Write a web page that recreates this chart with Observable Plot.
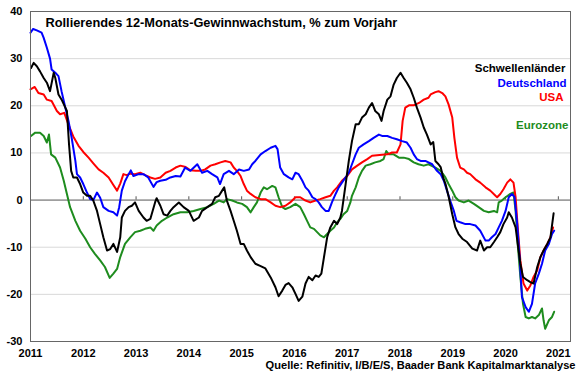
<!DOCTYPE html>
<html><head><meta charset="utf-8">
<script src="https://cdn.jsdelivr.net/npm/d3@7"></script>
<script src="https://cdn.jsdelivr.net/npm/@observablehq/plot@0.6"></script>
<style>body{margin:0;background:#fff}</style>
</head><body><div id="chart"></div>
<script>
const titleText = "Rollierendes 12-Monats-Gewinnwachstum, % zum Vorjahr";
const sourceText = "Quelle: Refinitiv, I/B/E/S, Baader Bank Kapitalmarktanalyse";
const seriesNames = ["Eurozone", "USA", "Deutschland", "Schwellenländer"];
const seriesColors = ["#1e8c1e", "#ff0000", "#0000ff", "#000000"];
const yTicks = [-30, -20, -10, 0, 10, 20, 30, 40];
const xTicks = [2011, 2012, 2013, 2014, 2015, 2016, 2017, 2018, 2019, 2020, 2021];

const deutschland = [[2011.00,35.5],[2011.05,36.3],[2011.12,36],[2011.21,35.5],[2011.25,34.4],[2011.31,32.3],[2011.37,30],[2011.40,27.7],[2011.47,27],[2011.53,26.3],[2011.59,23],[2011.66,19.6],[2011.72,16.8],[2011.78,13.2],[2011.85,8.3],[2011.88,5.5],[2011.94,4.8],[2012.00,3.4],[2012.07,1.6],[2012.13,0.2],[2012.19,0],[2012.26,1.6],[2012.32,0.5],[2012.38,-1.5],[2012.48,-2.3],[2012.57,-2.6],[2012.64,-3.3],[2012.68,-1.5],[2012.73,2],[2012.79,4],[2012.86,5.5],[2012.90,6.3],[2012.95,5.1],[2013.05,5.5],[2013.14,5.5],[2013.23,4.8],[2013.33,2.8],[2013.39,3.8],[2013.46,4.1],[2013.56,4.3],[2013.65,4.8],[2013.75,5.1],[2013.84,5],[2013.93,6.9],[2014.03,6.2],[2014.16,7.6],[2014.25,5.8],[2014.35,6.2],[2014.44,5.5],[2014.54,4.8],[2014.59,3.4],[2014.66,5.5],[2014.76,6.2],[2014.85,5.5],[2014.95,6.5],[2015.04,6.2],[2015.14,6.5],[2015.20,7.6],[2015.26,8.3],[2015.36,9.7],[2015.45,10.4],[2015.55,11.1],[2015.64,11.5],[2015.68,10.8],[2015.73,6.9],[2015.80,5.5],[2015.89,4.8],[2015.96,4.4],[2016.02,5.8],[2016.08,5.5],[2016.15,4.1],[2016.21,2.7],[2016.27,2],[2016.34,0.6],[2016.40,0.2],[2016.46,-0.5],[2016.52,-1.5],[2016.59,-2.3],[2016.65,-2.3],[2016.71,-0.5],[2016.78,1.3],[2016.84,2.7],[2016.90,3.7],[2016.97,4.8],[2017.03,5.8],[2017.09,7.6],[2017.16,9.7],[2017.22,11.1],[2017.31,11.8],[2017.41,12.5],[2017.50,13.2],[2017.60,13.9],[2017.66,13.6],[2017.76,13.6],[2017.85,13.2],[2017.94,12.9],[2018.04,12.5],[2018.13,12.2],[2018.20,11.1],[2018.26,9.7],[2018.32,8.7],[2018.39,8.3],[2018.48,8.3],[2018.61,7.6],[2018.70,6.2],[2018.77,5.5],[2018.83,4.1],[2018.89,2],[2018.95,-0.1],[2019.02,-2.3],[2019.07,-4.4],[2019.14,-4.7],[2019.24,-5.1],[2019.33,-5.1],[2019.43,-5.4],[2019.52,-6.5],[2019.62,-8.6],[2019.68,-8.6],[2019.74,-7.9],[2019.81,-7.2],[2019.87,-5.8],[2019.93,-4.4],[2020.00,-2.3],[2020.06,0.6],[2020.12,1.3],[2020.17,0.6],[2020.22,-5.1],[2020.27,-12.8],[2020.31,-20.6],[2020.38,-22.7],[2020.44,-23.7],[2020.50,-22],[2020.56,-17.7],[2020.63,-15.6],[2020.69,-13.5],[2020.75,-10.7],[2020.82,-9.3],[2020.88,-7.2],[2020.92,-6.5]];

const usa = [[2011.00,23.5],[2011.08,24],[2011.15,22.7],[2011.25,22.4],[2011.31,21.3],[2011.40,21],[2011.50,18.9],[2011.56,18.2],[2011.64,18.5],[2011.72,16],[2011.81,13.5],[2011.91,11.5],[2012.00,10.2],[2012.10,9],[2012.19,7.8],[2012.29,6.5],[2012.38,5.8],[2012.48,4.8],[2012.57,3.2],[2012.64,2],[2012.70,3.5],[2012.76,5.5],[2012.82,5.3],[2012.89,5.6],[2012.98,5.5],[2013.08,5.8],[2013.17,5.3],[2013.27,4.8],[2013.36,4.5],[2013.46,4.8],[2013.56,5.8],[2013.65,6.2],[2013.75,6.9],[2013.84,7.3],[2013.94,7],[2014.03,6.3],[2014.13,6.2],[2014.22,6.2],[2014.31,6.5],[2014.41,7.3],[2014.50,7.6],[2014.60,8],[2014.69,8.3],[2014.79,8],[2014.85,6.9],[2014.91,6.2],[2014.98,5.1],[2015.04,3.4],[2015.10,2],[2015.17,1.3],[2015.26,0.6],[2015.36,0.2],[2015.45,0.2],[2015.55,-0.5],[2015.64,-1.2],[2015.73,-1.5],[2015.83,-1.2],[2015.92,-0.5],[2016.02,0.6],[2016.11,0.6],[2016.21,-0.1],[2016.30,-0.5],[2016.40,-0.1],[2016.49,0.2],[2016.59,0.6],[2016.68,0.9],[2016.75,2],[2016.81,2.7],[2016.90,4.1],[2017.00,5.1],[2017.09,6.5],[2017.19,7.3],[2017.28,8],[2017.38,8.7],[2017.47,9.4],[2017.66,9.6],[2017.76,9.7],[2017.85,10.1],[2017.94,10.1],[2018.01,11.8],[2018.05,16.8],[2018.10,19.6],[2018.17,20.1],[2018.26,20.1],[2018.36,20.6],[2018.45,21.3],[2018.54,21.7],[2018.58,22.4],[2018.67,22.9],[2018.73,23.1],[2018.80,22.7],[2018.86,22],[2018.92,20.3],[2018.99,17.5],[2019.03,13.2],[2019.08,9],[2019.14,6.9],[2019.21,6.5],[2019.27,5.8],[2019.33,5.5],[2019.43,4.4],[2019.52,3.7],[2019.62,2.7],[2019.71,2],[2019.81,0.9],[2019.84,0.6],[2019.90,1.3],[2019.96,2.3],[2020.03,3.7],[2020.09,4.4],[2020.15,3.7],[2020.19,0.6],[2020.23,-5.8],[2020.28,-12.8],[2020.34,-17.7],[2020.41,-19.2],[2020.47,-18.1],[2020.53,-16.3],[2020.60,-14.9],[2020.66,-12.1],[2020.72,-10.7],[2020.79,-9.3],[2020.85,-7.9],[2020.90,-5.8]];

const schwellenlaender = [[2011.01,28],[2011.06,29.1],[2011.12,28.4],[2011.18,27.3],[2011.25,25.9],[2011.31,24.9],[2011.37,23.1],[2011.44,27],[2011.47,25.9],[2011.53,22.4],[2011.59,21.3],[2011.66,19.6],[2011.69,18.9],[2011.73,11.8],[2011.77,6.2],[2011.81,4.8],[2011.88,4.8],[2011.94,3.4],[2012.00,1.6],[2012.07,0.9],[2012.13,0.9],[2012.19,-0.1],[2012.26,-2.3],[2012.32,-5.1],[2012.38,-7.9],[2012.45,-10.7],[2012.51,-10.4],[2012.57,-9.3],[2012.64,-11],[2012.70,-7.9],[2012.73,-3.7],[2012.79,-2.3],[2012.86,-1.5],[2012.92,-1.2],[2012.98,-0.5],[2013.05,-2.3],[2013.14,-3.7],[2013.20,-4.4],[2013.27,-4],[2013.36,-0.5],[2013.39,0.4],[2013.46,-1.2],[2013.52,-3],[2013.59,-3.3],[2013.65,-2.3],[2013.71,-1.5],[2013.81,-0.5],[2013.90,-1.5],[2014.00,-2.3],[2014.09,-4.4],[2014.19,-3.7],[2014.25,-2.3],[2014.35,-1.5],[2014.44,-0.8],[2014.50,0.6],[2014.57,0.9],[2014.63,2],[2014.67,2.7],[2014.72,-0.1],[2014.79,-2.3],[2014.85,-4.4],[2014.91,-6.5],[2014.98,-9.3],[2015.04,-9.3],[2015.10,-10.7],[2015.17,-12.1],[2015.26,-13.5],[2015.36,-14],[2015.45,-14.5],[2015.55,-16.4],[2015.64,-18.5],[2015.70,-20.4],[2015.77,-19.2],[2015.83,-18],[2015.89,-17.6],[2015.96,-18.5],[2016.02,-19.9],[2016.08,-21.4],[2016.15,-20.5],[2016.21,-17.7],[2016.27,-16.3],[2016.34,-17],[2016.40,-16],[2016.46,-16.3],[2016.51,-15.6],[2016.56,-12.1],[2016.62,-7.9],[2016.68,-5.8],[2016.75,-4.4],[2016.81,-5.1],[2016.87,-3.7],[2016.90,-2.3],[2016.97,3.4],[2017.03,8.3],[2017.09,12.5],[2017.16,16.1],[2017.22,16.1],[2017.28,17.5],[2017.35,18.2],[2017.41,19.6],[2017.47,20.6],[2017.53,18.9],[2017.60,18.2],[2017.65,16.8],[2017.69,18.9],[2017.76,21.3],[2017.82,22],[2017.88,24.5],[2017.94,25.9],[2018.01,27],[2018.07,25.9],[2018.13,24.9],[2018.20,23.5],[2018.26,21.7],[2018.32,19.6],[2018.39,17.5],[2018.45,15.4],[2018.51,13.9],[2018.58,11.8],[2018.63,12.3],[2018.67,8.3],[2018.73,7.6],[2018.77,7],[2018.82,4.7],[2018.86,3.5],[2018.92,0.8],[2018.99,-3],[2019.05,-5.8],[2019.11,-7.2],[2019.18,-8.2],[2019.27,-8.9],[2019.37,-10.3],[2019.46,-10.7],[2019.52,-8.6],[2019.59,-10.7],[2019.65,-10],[2019.71,-10],[2019.78,-8.9],[2019.84,-7.9],[2019.90,-6.8],[2019.96,-5.1],[2020.03,-3.7],[2020.06,-2.6],[2020.12,-3.7],[2020.19,-5.8],[2020.23,-9.3],[2020.28,-13.5],[2020.33,-16.3],[2020.41,-17],[2020.47,-17.4],[2020.53,-17.7],[2020.60,-14.2],[2020.66,-12.1],[2020.72,-10.7],[2020.79,-9.3],[2020.85,-7.9],[2020.91,-2.8]];

const eurozone = [[2011.01,13.6],[2011.09,14.3],[2011.18,14.3],[2011.25,13.6],[2011.31,12.2],[2011.35,13.9],[2011.39,9.7],[2011.47,9],[2011.56,6.9],[2011.63,4.1],[2011.69,1.3],[2011.75,-1.5],[2011.85,-4.4],[2011.94,-6.5],[2012.04,-8.2],[2012.13,-10],[2012.22,-11.4],[2012.32,-12.8],[2012.41,-14.2],[2012.50,-16.5],[2012.57,-15.6],[2012.64,-14.6],[2012.70,-12.1],[2012.79,-9.3],[2012.89,-7.9],[2012.98,-6.8],[2013.08,-6.5],[2013.17,-6.1],[2013.27,-5.8],[2013.33,-6.5],[2013.39,-5.4],[2013.49,-4.4],[2013.59,-3.7],[2013.71,-3],[2013.84,-2.6],[2013.97,-2.6],[2014.09,-2.3],[2014.22,-1.9],[2014.35,-1.5],[2014.47,-0.8],[2014.57,-0.1],[2014.66,-0.5],[2014.72,0.2],[2014.82,-0.1],[2014.91,-0.5],[2015.01,-0.8],[2015.10,-1.5],[2015.17,-2.6],[2015.23,-1.5],[2015.29,-0.5],[2015.36,1.6],[2015.42,2.7],[2015.48,2.3],[2015.58,3],[2015.64,2.7],[2015.70,0.6],[2015.77,-1.5],[2015.83,-1.9],[2015.92,-1.5],[2016.02,-0.8],[2016.11,-1.5],[2016.18,-3],[2016.24,-4.4],[2016.30,-5.8],[2016.37,-6.1],[2016.43,-6.8],[2016.49,-7.5],[2016.56,-7.9],[2016.62,-7.2],[2016.68,-6.5],[2016.75,-5.8],[2016.81,-4.7],[2016.87,-4],[2016.93,-3],[2017.00,-2.3],[2017.06,-0.5],[2017.09,0.9],[2017.16,2.7],[2017.22,4.8],[2017.28,6.2],[2017.35,7.3],[2017.44,7.6],[2017.53,8],[2017.63,8.3],[2017.69,8.7],[2017.74,10.4],[2017.79,9.7],[2017.88,9.7],[2017.98,9],[2018.07,9],[2018.17,8.7],[2018.26,8],[2018.35,7.6],[2018.45,7.3],[2018.54,7.6],[2018.67,6.9],[2018.77,6.2],[2018.86,4.8],[2018.92,3.4],[2018.99,2],[2019.05,0.6],[2019.11,-0.1],[2019.21,-0.5],[2019.30,-0.1],[2019.40,-0.8],[2019.49,-1.5],[2019.59,-2.3],[2019.68,-2.6],[2019.78,-2.3],[2019.84,-2.6],[2019.87,-0.5],[2019.93,-0.1],[2020.00,0.6],[2020.09,1.3],[2020.15,1.6],[2020.19,-2.3],[2020.23,-9.3],[2020.28,-16.3],[2020.33,-22],[2020.38,-24.8],[2020.44,-25.1],[2020.50,-24.8],[2020.56,-25.1],[2020.63,-24.4],[2020.69,-23],[2020.72,-25.5],[2020.75,-27.3],[2020.82,-25.5],[2020.88,-24.8],[2020.92,-23.7]];

const seriesData = [eurozone, usa, deutschland, schwellenlaender];
const rows = [];
seriesNames.forEach((name, i) => seriesData[i].forEach(([t, v]) => rows.push({name, t, v})));

const legendRows = [
  {name: "Schwellenländer", dy: 57, dx: -5},
  {name: "Deutschland", dy: 71.5, dx: -4},
  {name: "USA", dy: 85.5, dx: -7},
  {name: "Eurozone", dy: 113.5, dx: -2}
];

const chart = Plot.plot({
  width: 580, height: 375,
  marginLeft: 30, marginRight: 10, marginTop: 11, marginBottom: 34,
  style: {fontFamily: "'Liberation Sans', Arial, sans-serif", fontSize: "11px", fontWeight: "bold", background: "#fff", color: "#000"},
  x: {domain: [2011, 2021.23], label: null},
  y: {domain: [-30, 40], label: null},
  color: {domain: seriesNames, range: seriesColors},
  marks: [
    Plot.ruleY(yTicks.filter(d => d !== 0 && d !== -30 && d !== 40), {stroke: "#d9d9d9", strokeWidth: 1}),
    Plot.ruleY([0], {stroke: "#555", strokeWidth: 1}),
    Plot.ruleX(xTicks, {y1: 0, y2: 0.7, stroke: "#555"}),
    Plot.lineY(rows, {x: "t", y: "v", z: "name", stroke: "name", strokeWidth: 2}),
    Plot.frame({stroke: "#666", strokeWidth: 1}),
    Plot.axisY(yTicks, {tickSize: 0, tickPadding: 8, tickFormat: d => String(d), fontSize: 11}),
    Plot.axisX(xTicks, {tickSize: 0, tickPadding: 8, tickFormat: d => String(d), fontSize: 11}),
    Plot.text([titleText], {text: d => d, frameAnchor: "top-left", dx: 15, dy: 11.5, lineAnchor: "middle", textAnchor: "start", fontSize: 12.8, fill: "#000"}),
    ...legendRows.map(r => Plot.text([r.name], {text: d => d, frameAnchor: "top-right", dx: r.dx, dy: r.dy, lineAnchor: "middle", textAnchor: "end", fontSize: 11.5, fill: seriesColors[seriesNames.indexOf(r.name)]})),
    Plot.text([sourceText], {text: d => d, frameAnchor: "bottom-right", dx: 5, dy: 24, lineAnchor: "middle", textAnchor: "end", fontSize: 11.1, fill: "#000"})
  ]
});
document.getElementById("chart").appendChild(chart);
</script>
</body></html>
